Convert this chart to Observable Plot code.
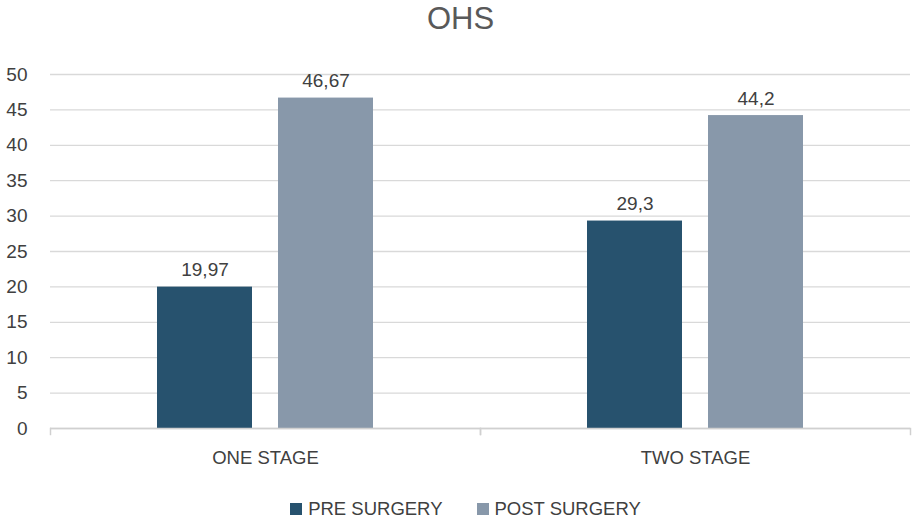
<!DOCTYPE html>
<html>
<head>
<meta charset="utf-8">
<script src="https://cdn.jsdelivr.net/npm/d3@7"></script>
<script src="https://cdn.jsdelivr.net/npm/@observablehq/plot@0.6"></script>
<style>
  html, body { margin: 0; padding: 0; background: #fff; }
  body { width: 917px; height: 525px; overflow: hidden; font-family: "Liberation Sans", Arial, sans-serif; }
  #title { height: 50px; line-height: 38px; text-align: center; font-size: 31px; color: #595959; padding-left: 4px; box-sizing: border-box; }
  #legend { display: flex; justify-content: center; align-items: center; gap: 34px; font-size: 18.5px; color: #404040; margin-top: 8px; padding-left: 14px; }
  .item { display: flex; align-items: center; gap: 6px; }
  .sw { width: 12px; height: 12px; display: inline-block; }
</style>
</head>
<body>
<div id="title">OHS</div>
<div id="chart"></div>
<div id="legend"></div>
<script>
const categories = ["ONE STAGE", "TWO STAGE"];
const series = ["PRE SURGERY", "POST SURGERY"];
const preValues = [19.97, 29.3];
const postValues = [46.67, 44.2];
const yTicks = [0, 5, 10, 15, 20, 25, 30, 35, 40, 45, 50];
const colors = ["#27526e", "#8898aa"];

const data = categories.flatMap((c, i) => [
  {cat: c, s: series[0], v: preValues[i]},
  {cat: c, s: series[1], v: postValues[i]}
]);
const fmt = v => String(v).replace(".", ",");

const plotHeight = 440, mTop = 24, mBottom = 62;
const chart = Plot.plot({
  width: 917,
  height: plotHeight,
  marginLeft: 49,
  marginRight: 7,
  marginTop: mTop,
  marginBottom: mBottom,
  style: {fontFamily: "Liberation Sans, Arial, sans-serif", color: "#404040", background: "#fff"},
  fx: {domain: categories, padding: 0, label: null, axis: null},
  x: {domain: series, paddingInner: 0.213, paddingOuter: 0.87, axis: null},
  y: {domain: [0, 50], label: null},
  color: {domain: series, range: colors},
  marks: [
    Plot.gridY(yTicks, {stroke: "#d9d9d9", strokeOpacity: 1, strokeWidth: 1.3}),
    Plot.barY(data, {fx: "cat", x: "s", y: "v", fill: "s"}),
    Plot.text(data, {fx: "cat", x: "s", y: "v", text: d => fmt(d.v), dy: -17, fontSize: 19, fill: "#404040"}),
    Plot.ruleY([0], {stroke: "#d0d0d0", strokeWidth: 1.5}),
    Plot.frame({anchor: "left", insetTop: plotHeight - mTop - mBottom, insetBottom: -6, stroke: "#d0d0d0", strokeWidth: 1.5}),
    Plot.frame({anchor: "right", insetTop: plotHeight - mTop - mBottom, insetBottom: -6, stroke: "#d0d0d0", strokeWidth: 1.5}),
    Plot.axisY(yTicks, {tickSize: 0, tickPadding: 23, fontSize: 19, fill: "#404040", label: null}),
    Plot.axisFx({anchor: "bottom", tickSize: 0, tickPadding: 22, fontSize: 18.5, fill: "#404040", label: null})
  ]
});
document.getElementById("chart").appendChild(chart);

const legend = document.getElementById("legend");
series.forEach((s, i) => {
  const item = document.createElement("div");
  item.className = "item";
  const sw = document.createElement("span");
  sw.className = "sw";
  sw.style.background = colors[i];
  const t = document.createElement("span");
  t.textContent = s;
  item.appendChild(sw);
  item.appendChild(t);
  legend.appendChild(item);
});
</script>
</body>
</html>
